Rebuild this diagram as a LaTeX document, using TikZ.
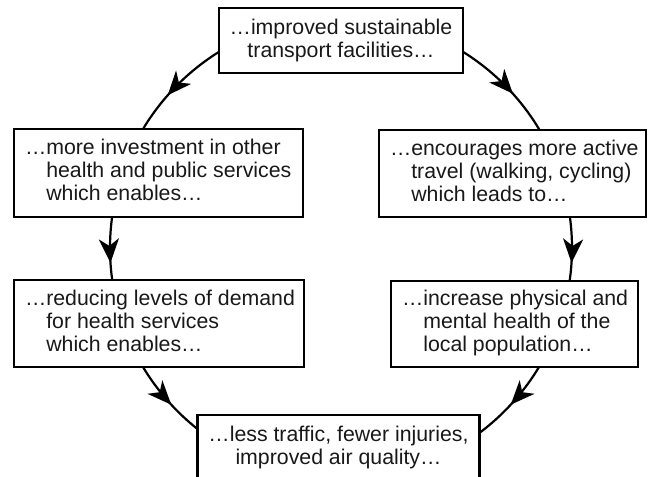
\documentclass[tikz,border=0pt]{standalone}
\usepackage{fontspec}
\setmainfont{Liberation Sans}
\usetikzlibrary{arrows.meta,decorations.markings,backgrounds,calc}
\begin{document}
\begin{tikzpicture}[x=1pt,y=-1pt,
  box/.style={draw=black, line width=2.2pt, fill=white, inner xsep=11pt, inner ysep=0pt,
    font=\fontsize{21.3}{23}\selectfont, text=black!90},
  cbox/.style={box, align=center},
  cycline/.style={line width=2.2pt, draw=black},
  tipat/.style={postaction={decorate}, decoration={markings,
    mark=at position #1 with {\arrow{Stealth[length=24pt,width=20pt,inset=7pt]}}}}
]
\useasboundingbox (0,0) rectangle (649,477);
\coordinate (c) at (341,248);

\node[cbox, minimum width=244pt, minimum height=65pt] (top) at (341,40.5)
  {…improved sustainable\\transport facilities…};
\node[box, minimum width=289pt, minimum height=88pt] (lm) at (158.5,173)
  {\makebox[267pt][l]{\begin{tabular}{@{}l@{}}…more investment in other\\\phantom{…}health and public services\\\phantom{…}which enables…\end{tabular}}};
\node[box, minimum width=267pt, minimum height=87pt] (rm) at (512.5,173.5)
  {\makebox[245pt][l]{\begin{tabular}{@{}l@{}}…encourages more active\\\phantom{…}travel (walking, cycling)\\\phantom{…}which leads to…\end{tabular}}};
\node[box, minimum width=290pt, minimum height=87pt] (ll) at (159,323.5)
  {\makebox[268pt][l]{\begin{tabular}{@{}l@{}}…reducing levels of demand\\\phantom{…}for health services\\\phantom{…}which enables…\end{tabular}}};
\node[box, minimum width=247pt, minimum height=86pt] (rl) at (514.5,324)
  {\makebox[225pt][l]{\begin{tabular}{@{}l@{}}…increase physical and\\\phantom{…}mental health of the\\\phantom{…}local population…\end{tabular}}};
\node[cbox, minimum width=279pt, minimum height=65pt] (bot) at (338.5,447.5)
  {…less traffic, fewer injuries,\\improved air quality…};

\begin{scope}[on background layer]
  % top -> left middle
  \draw[cycline, tipat=0.636] ($(c)+(-110:231)$) arc[start angle=-110, end angle=-155, radius=231];
  % left middle -> left lower
  \draw[cycline, tipat=0.623] ($(c)+(195:231)$) arc[start angle=195, end angle=165, radius=231];
  % left lower -> bottom
  \draw[cycline, tipat=0.506] ($(c)+(155:231)$) arc[start angle=155, end angle=120, radius=231];
  % top -> right middle
  \draw[cycline, tipat=0.624] ($(c)+(-70:231)$) arc[start angle=-70, end angle=-25, radius=231];
  % right middle -> right lower
  \draw[cycline, tipat=0.623] ($(c)+(-15:231)$) arc[start angle=-15, end angle=15, radius=231];
  % right lower -> bottom
  \draw[cycline, tipat=0.506] ($(c)+(25:231)$) arc[start angle=25, end angle=60, radius=231];
\end{scope}
\end{tikzpicture}
\end{document}
